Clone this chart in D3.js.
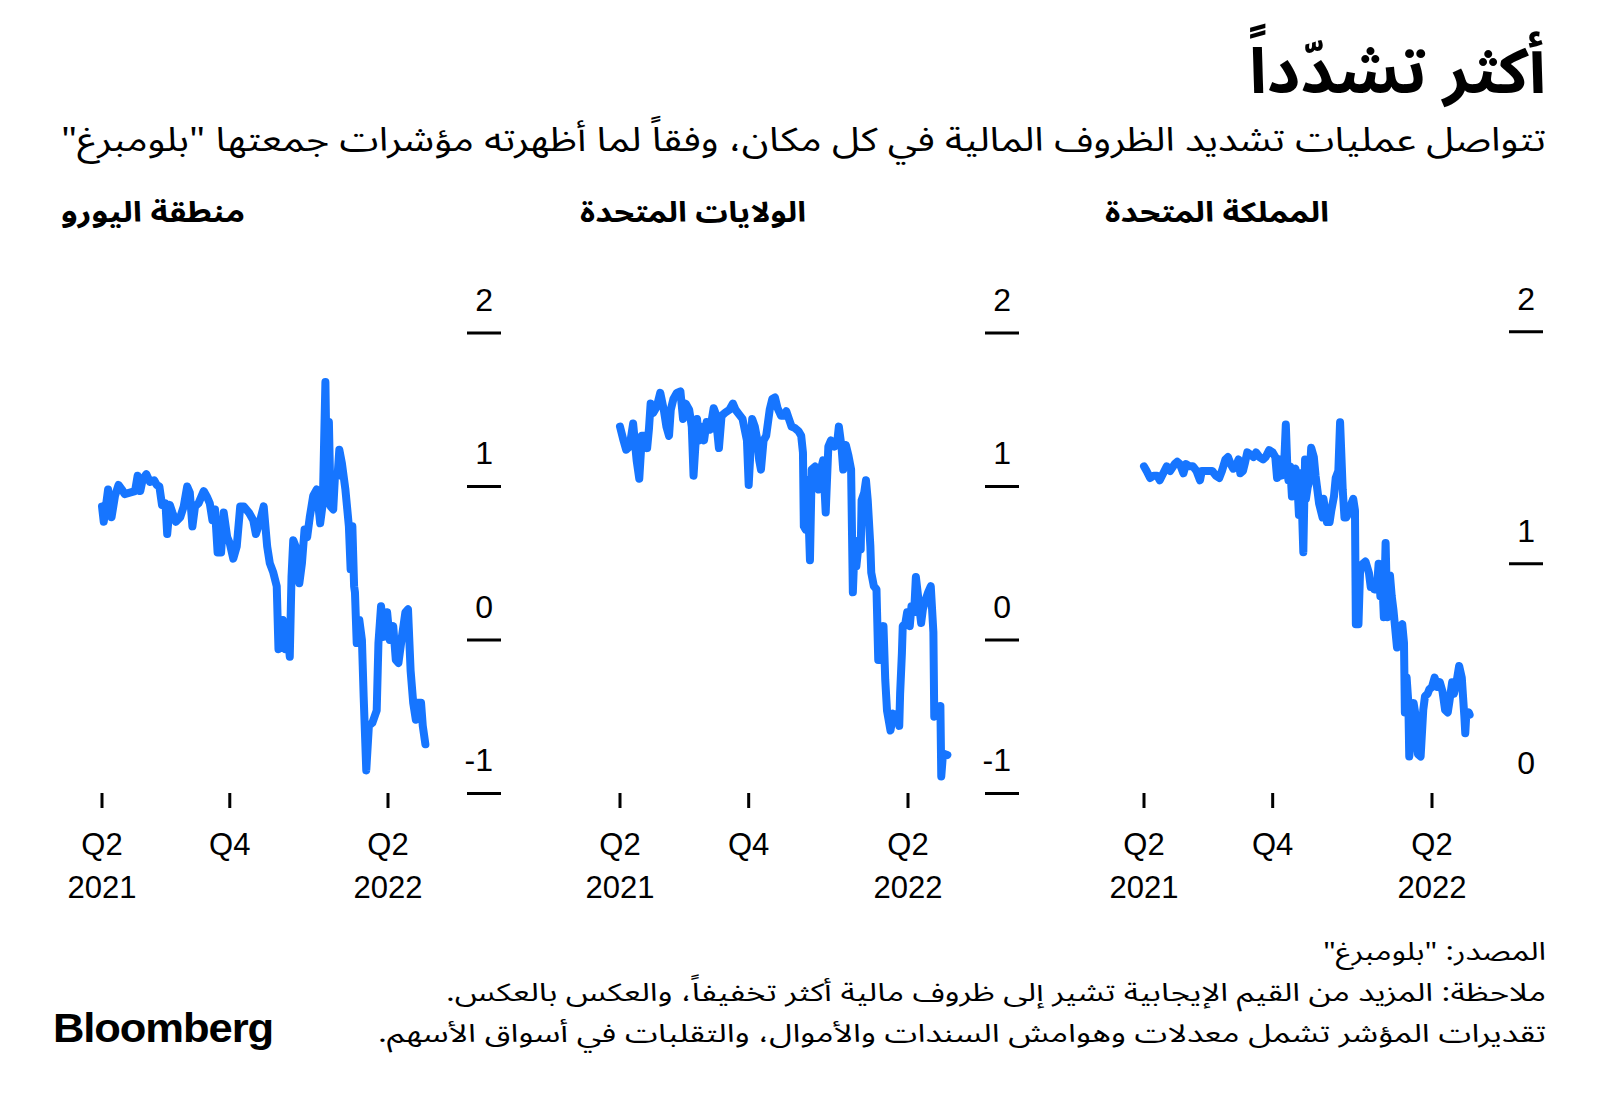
<!DOCTYPE html>
<html><head><meta charset="utf-8">
<script src="https://cdn.jsdelivr.net/npm/d3@7"></script>
<style>
html,body{margin:0;padding:0;background:#fff;}
svg{display:block;}
</style></head>
<body>
<svg id="chart" width="1600" height="1106"></svg>
<script>
// ---------- DATA ----------
const startDate = "2021-05-07"; // first observation (day 0)
const xTickDates = ["2021-05-07", "2021-10-01", "2022-04-01"];
const xTickQuarter = ["Q2", "Q4", "Q2"];
const xTickYear = ["2021", "", "2022"];
const euroYTicks = [-1, 0, 1, 2];
const usYTicks = [-1, 0, 1, 2];
const ukYTicks = [0, 1, 2];

// [days since start, index value]
const euroSeries = [[0,0.87],[2,0.77],[4,0.85],[7,0.98],[11,0.80],[15,0.94],[19,1.01],[23,0.98],[26,0.95],[32,0.96],[38,0.97],[41,1.07],[44,0.97],[47,1.05],[51,1.08],[55,1.03],[60,1.04],[63,1.01],[66,1.00],[69,0.88],[73,0.89],[75,0.69],[78,0.88],[81,0.83],[85,0.77],[90,0.80],[94,0.87],[98,1.00],[101,0.96],[104,0.74],[107,0.87],[111,0.89],[117,0.97],[121,0.93],[124,0.89],[127,0.78],[130,0.85],[133,0.57],[137,0.57],[140,0.83],[144,0.67],[147,0.63],[151,0.53],[155,0.61],[159,0.87],[163,0.87],[169,0.83],[174,0.78],[177,0.69],[182,0.78],[186,0.87],[190,0.61],[193,0.50],[197,0.44],[201,0.35],[203,-0.06],[206,-0.02],[208,0.13],[211,-0.06],[213,0.11],[216,-0.11],[218,0.41],[220,0.65],[224,0.59],[227,0.37],[230,0.50],[233,0.72],[236,0.67],[239,0.80],[243,0.94],[247,0.98],[251,0.76],[254,0.89],[257,1.68],[259,0.89],[261,1.42],[263,0.87],[266,0.85],[268,1.07],[271,1.07],[273,1.24],[276,1.15],[280,0.98],[284,0.74],[286,0.46],[288,0.74],[290,0.35],[291,0.31],[293,-0.02],[296,0.13],[299,0.00],[301,-0.37],[304,-0.85],[307,-0.56],[311,-0.54],[316,-0.46],[318,-0.02],[321,0.22],[324,0.02],[328,0.18],[331,0.00],[335,0.09],[338,-0.13],[341,-0.15],[345,0.02],[349,0.18],[352,0.20],[355,-0.20],[358,-0.41],[361,-0.52],[362,-0.41],[367,-0.41],[369,-0.56],[372,-0.68]];

const usSeries = [[0,1.39],[4,1.30],[7,1.24],[11,1.26],[15,1.41],[19,1.17],[22,1.05],[25,1.33],[29,1.33],[31,1.25],[33,1.37],[35,1.54],[38,1.48],[42,1.52],[46,1.61],[50,1.50],[53,1.39],[56,1.33],[58,1.50],[61,1.57],[65,1.61],[69,1.62],[72,1.44],[75,1.54],[79,1.50],[82,1.39],[84,1.07],[88,1.44],[90,1.30],[93,1.39],[96,1.30],[99,1.42],[103,1.37],[107,1.51],[109,1.48],[113,1.25],[116,1.46],[120,1.48],[125,1.50],[129,1.54],[132,1.50],[136,1.47],[140,1.44],[145,1.30],[147,1.01],[151,1.44],[154,1.39],[157,1.30],[159,1.17],[161,1.11],[164,1.30],[167,1.33],[171,1.50],[174,1.57],[177,1.58],[180,1.51],[184,1.46],[187,1.46],[190,1.49],[193,1.44],[196,1.39],[200,1.38],[204,1.36],[207,1.33],[209,1.22],[210,0.74],[212,0.72],[214,1.04],[217,0.52],[219,1.11],[223,1.13],[227,0.98],[228,1.08],[232,1.17],[235,0.83],[238,1.26],[241,1.30],[245,1.26],[248,1.28],[250,1.39],[253,1.26],[255,1.11],[258,1.27],[261,1.20],[264,1.11],[266,0.31],[268,0.61],[270,0.48],[273,0.65],[275,0.59],[276,0.91],[279,0.96],[281,1.04],[283,0.91],[286,0.61],[287,0.44],[290,0.35],[293,0.33],[295,-0.13],[297,0.09],[298,-0.13],[301,0.09],[303,-0.26],[305,-0.46],[309,-0.59],[312,-0.48],[314,-0.52],[317,-0.48],[319,-0.56],[320,-0.35],[322,-0.09],[323,0.09],[326,0.11],[328,0.18],[331,0.09],[333,0.22],[336,0.18],[338,0.41],[341,0.26],[344,0.11],[346,0.20],[349,0.26],[352,0.31],[355,0.35],[358,0.05],[359,-0.50],[362,-0.48],[365,-0.48],[366,-0.43],[367,-0.89],[369,-0.74],[374,-0.75]];

const ukSeries = [[0,1.42],[3,1.40],[7,1.37],[11,1.38],[15,1.38],[18,1.36],[22,1.39],[26,1.42],[30,1.40],[35,1.43],[38,1.44],[41,1.43],[45,1.39],[48,1.43],[52,1.42],[56,1.42],[60,1.40],[64,1.36],[66,1.40],[70,1.40],[74,1.40],[78,1.40],[82,1.38],[86,1.37],[89,1.40],[93,1.45],[96,1.46],[99,1.43],[102,1.41],[105,1.42],[108,1.45],[110,1.39],[113,1.40],[115,1.43],[118,1.48],[122,1.47],[125,1.46],[128,1.48],[132,1.46],[136,1.45],[139,1.46],[143,1.49],[147,1.48],[150,1.46],[152,1.37],[155,1.45],[157,1.38],[160,1.42],[162,1.60],[164,1.39],[165,1.36],[167,1.42],[169,1.29],[171,1.40],[173,1.41],[175,1.36],[177,1.21],[179,1.39],[180,1.29],[182,1.05],[184,1.45],[185,1.28],[187,1.33],[189,1.36],[191,1.50],[194,1.46],[196,1.38],[198,1.32],[200,1.26],[202,1.23],[204,1.20],[205,1.28],[207,1.23],[209,1.18],[212,1.18],[214,1.23],[217,1.29],[219,1.37],[222,1.40],[224,1.61],[227,1.32],[229,1.20],[231,1.20],[234,1.22],[237,1.26],[239,1.28],[241,1.23],[242,0.74],[245,0.74],[247,0.99],[250,1.00],[253,1.01],[257,0.96],[259,0.90],[261,0.92],[263,0.89],[266,0.89],[268,1.00],[270,0.86],[272,0.95],[274,0.77],[276,1.09],[278,0.77],[280,0.80],[281,0.95],[283,0.86],[285,0.80],[287,0.72],[289,0.64],[292,0.73],[295,0.74],[297,0.66],[298,0.36],[300,0.51],[302,0.40],[303,0.17],[305,0.24],[306,0.34],[308,0.40],[311,0.33],[313,0.18],[316,0.17],[319,0.37],[321,0.43],[324,0.44],[326,0.46],[329,0.47],[332,0.51],[335,0.47],[338,0.49],[341,0.45],[344,0.37],[347,0.36],[349,0.41],[352,0.49],[354,0.44],[357,0.49],[360,0.56],[363,0.51],[366,0.34],[367,0.27],[368,0.34],[371,0.36],[372,0.35]];

const titleText = "أكثر تشدّداً";
const subtitleText = 'تتواصل عمليات تشديد الظروف المالية في كل مكان، وفقاً لما أظهرته مؤشرات جمعتها "بلومبرغ"';
const panelNames = ["منطقة اليورو", "الولايات المتحدة", "المملكة المتحدة"];
const footerLines = [
  'المصدر: "بلومبرغ"',
  'ملاحظة: المزيد من القيم الإيجابية تشير إلى ظروف مالية أكثر تخفيفاً، والعكس بالعكس.',
  'تقديرات المؤشر تشمل معدلات وهوامش السندات والأموال، والتقلبات في أسواق الأسهم.'
];
const logoText = "Bloomberg";

// ---------- LAYOUT ----------
const arabicFont = "'Noto Sans Arabic','DejaVu Sans',sans-serif";
const latinFont = "'Liberation Sans',Arial,Helvetica,sans-serif";
const lineColor = "#1675ff";

const panels = [
  {series: euroSeries, yTicks: euroYTicks, yDomain: [-1, 2], yRange: [793.4, 333],
   xRange: [102, 388], axX: [467, 501], tickLineSkip: [], titleRight: 245, titleWidth: 184},
  {series: usSeries, yTicks: usYTicks, yDomain: [-1, 2], yRange: [793.4, 333],
   xRange: [620, 908], axX: [985, 1019], tickLineSkip: [], titleRight: 806, titleWidth: 226},
  {series: ukSeries, yTicks: ukYTicks, yDomain: [0, 2], yRange: [796, 331.7],
   xRange: [1144, 1432], axX: [1509, 1543], tickLineSkip: [0], titleRight: 1329, titleWidth: 224}
];

const svg = d3.select("#chart");
const parse = d3.timeParse("%Y-%m-%d");
const start = parse(startDate);
const tickDates = xTickDates.map(parse);

function styleRTL(t, size, weight) {
  return t.attr("font-family", arabicFont).attr("font-size", size).attr("font-weight", weight)
    .attr("direction", "rtl").style("direction", "rtl")
    .attr("text-anchor", "start").attr("fill", "#000");
}

// x position so that the right edge of the fitted text sits at rightX
function fittedX(str, rightX, baseline, width, size, weight) {
  const t = styleRTL(svg.append("text").text(str), size, weight)
    .attr("x", rightX).attr("y", baseline)
    .attr("textLength", width).attr("lengthAdjust", "spacingAndGlyphs");
  const bb = t.node().getBBox();
  t.remove();
  return rightX + (rightX - (bb.x + bb.width));
}

function placeRTL(str, rightX, baseline, width, size, weight) {
  const x = fittedX(str, rightX, baseline, width, size, weight);
  return styleRTL(svg.append("text").text(str), size, weight)
    .attr("x", x).attr("y", baseline)
    .attr("textLength", width).attr("lengthAdjust", "spacingAndGlyphs");
}

// Title & subtitle
placeRTL(titleText, 1546, 93, 297, 63, "bold");
placeRTL(subtitleText, 1546, 151, 1485, 33, "normal");

// Panels
panels.forEach((p, i) => {
  const x = d3.scaleTime().domain([tickDates[0], tickDates[2]]).range(p.xRange);
  const y = d3.scaleLinear().domain(p.yDomain).range(p.yRange);

  placeRTL(panelNames[i], p.titleRight, 222, p.titleWidth, 28, "bold");

  // y axis (right side, tick lines with labels above)
  const yg = svg.append("g");
  p.yTicks.forEach(v => {
    if (!p.tickLineSkip.includes(v)) {
      yg.append("line").attr("x1", p.axX[0]).attr("x2", p.axX[1])
        .attr("y1", y(v)).attr("y2", y(v))
        .attr("stroke", "#000").attr("stroke-width", 3);
    }
    yg.append("text").text(v).attr("x", p.axX[1] - 8).attr("y", y(v) - 22)
      .attr("text-anchor", "end").attr("font-family", latinFont)
      .attr("font-size", 32).attr("fill", "#000");
  });

  // x axis
  const xg = svg.append("g");
  tickDates.forEach((d, k) => {
    const tx = x(d);
    xg.append("line").attr("x1", tx).attr("x2", tx).attr("y1", 793).attr("y2", 808)
      .attr("stroke", "#000").attr("stroke-width", 3);
    xg.append("text").text(xTickQuarter[k]).attr("x", tx).attr("y", 855)
      .attr("text-anchor", "middle").attr("font-family", latinFont)
      .attr("font-size", 31).attr("fill", "#000");
    if (xTickYear[k]) {
      xg.append("text").text(xTickYear[k]).attr("x", tx).attr("y", 898)
        .attr("text-anchor", "middle").attr("font-family", latinFont)
        .attr("font-size", 31).attr("fill", "#000");
    }
  });

  // line
  const line = d3.line()
    .x(d => x(d3.timeDay.offset(start, d[0])))
    .y(d => y(d[1]));
  svg.append("path").datum(p.series).attr("d", line)
    .attr("fill", "none").attr("stroke", lineColor).attr("stroke-width", 8)
    .attr("stroke-linejoin", "round").attr("stroke-linecap", "round");
});

// Footer: one text block, one tspan per line
const footerBaselines = [960, 1001, 1042];
const footerWidths = [223, 1100, 1168];
const footerSize = 25;
const footerX = footerLines.map((s, k) =>
  fittedX(s, 1546, footerBaselines[k], footerWidths[k], footerSize, "normal"));
const foot = styleRTL(svg.append("text"), footerSize, "normal");
footerLines.forEach((s, k) => {
  foot.append("tspan").text(s)
    .attr("x", footerX[k]).attr("y", footerBaselines[k])
    .attr("textLength", footerWidths[k]).attr("lengthAdjust", "spacingAndGlyphs");
});

svg.append("text").text(logoText).attr("x", 53).attr("y", 1042)
  .attr("font-family", latinFont).attr("font-size", 40).attr("font-weight", "bold")
  .attr("textLength", 220).attr("lengthAdjust", "spacingAndGlyphs")
  .attr("letter-spacing", -1).attr("fill", "#000");
</script>
</body></html>
